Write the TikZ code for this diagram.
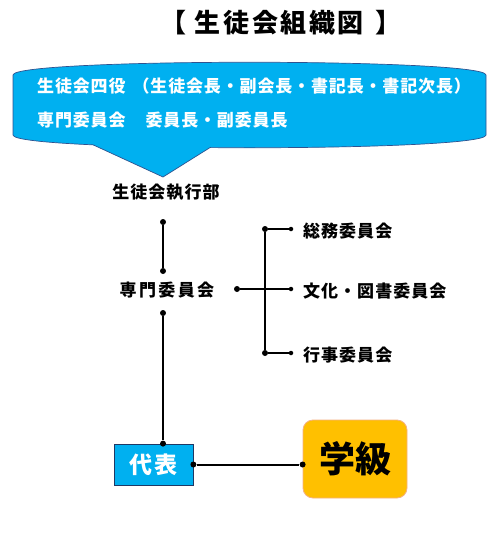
\documentclass[tikz,border=0pt]{standalone}
\usepackage{fontspec}
\setmainfont{Noto Sans CJK JP}
\usepackage{xcolor}
\usetikzlibrary{positioning,calc}
\definecolor{calloutblue}{RGB}{0,176,240}
\definecolor{edgeblue}{RGB}{47,82,143}
\definecolor{boxnavy}{RGB}{31,56,100}
\definecolor{classorange}{RGB}{255,192,0}
\definecolor{classedge}{RGB}{244,177,131}

\tikzset{
  ttl/.style={inner sep=0pt,font=\bfseries\fontsize{26}{30}\selectfont\addfontfeatures{LetterSpace=10}},
  calltxt/.style={anchor=west,text=white,inner sep=0pt,
    font=\bfseries\fontsize{17}{20}\selectfont\addfontfeatures{LetterSpace=5}},
  lbl/.style={inner sep=0pt,font=\bfseries\fontsize{17}{20}\selectfont\addfontfeatures{LetterSpace=6}},
  dot/.style={circle,fill=black,inner sep=0pt,minimum size=6pt},
  smalldot/.style={circle,fill=black,inner sep=0pt,minimum size=4.5pt},
  link/.style={line width=2pt},
  daihyo/.style={draw=boxnavy,line width=0.8pt,fill=calloutblue,text=white,
    minimum width=79pt,minimum height=41pt,inner sep=0pt,
    font=\bfseries\fontsize{23}{27}\selectfont\addfontfeatures{LetterSpace=12}},
  gakkyu/.style={draw=classedge,line width=0.8pt,fill=classorange,rounded corners=10pt,
    minimum width=104pt,minimum height=78pt,inner sep=0pt,
    font=\bfseries\fontsize{36}{40}\selectfont}
}

\begin{document}
\begin{tikzpicture}[x=1pt,y=-1pt]
  \useasboundingbox (0,0) rectangle (495,536);
  % title
  \node[ttl] (title) at (281,23) {【\hspace{9pt}生徒会組織図\hspace{12pt}】};
  % callout
  \filldraw[fill=calloutblue,draw=edgeblue,line width=0.7pt]
    (13,75) .. controls (13,58) and (486,58) .. (486,75) -- (486,135)
    .. controls (486,152) and (13,152) .. (13,135) -- cycle;
  \fill[calloutblue] (93,144.8) -- (163,177) -- (210,147.6) -- (210,140) -- (93,140) -- cycle;
  \draw[edgeblue,line width=0.7pt] (93,144.8) -- (163,177) -- (210,147.6);
  \node[calltxt] (yonyaku) at (37,86) {生徒会四役\hspace{7pt}（生徒会長・副会長・書記長・書記次長）};
  \node[calltxt] (iincho) at (37,120) {専門委員会\hspace{20pt}委員長・副委員長};

  \node[lbl] (exec) at (166,192.5) {生徒会執行部};
  \node[lbl,font=\bfseries\fontsize{17}{20}\selectfont\addfontfeatures{LetterSpace=14}] (senmon) at (167,290) {専門委員会};
  \node[dot] (d1) at (163,222) {};
  \node[dot] (d2) at (163,271) {};
  \node[dot] (d3) at (163,313) {};
  \draw[link] (d1) -- (d2);

  % committees
  \node[dot] (d4) at (237,289) {};
  \node[smalldot] (d5) at (291,289) {};
  \node[dot] (c1) at (265,229) {};
  \node[dot] (c2) at (265,353) {};
  \node[smalldot] (e1) at (291,229) {};
  \node[smalldot] (e3) at (291,353) {};
  \node[lbl,anchor=west] (soumu) at (303,231) {総務委員会};
  \node[lbl,anchor=west] (bunka) at (303,291) {文化・図書委員会};
  \node[lbl,anchor=west] (gyoji) at (303,355) {行事委員会};
  \draw[link] (d4) -- (d5);
  \draw[link] (c1) -- (c2);
  \draw[link] (c1) -- (e1);
  \draw[link] (c2) -- (e3);

  % representatives and class
  \node[daihyo] (rep) at (153.5,464.5) {代表};
  \node[gakkyu] (cls) at (355,459) {学級};
  \node[dot] (d6) at (d3 |- rep.north) {};
  \node[dot] (d7) at (rep.east) {};
  \node[dot] (d8) at (cls.west |- d7) {};
  \draw[link] (d3) -- (d6);
  \draw[link] (d7) -- (d8);
\end{tikzpicture}
\end{document}
